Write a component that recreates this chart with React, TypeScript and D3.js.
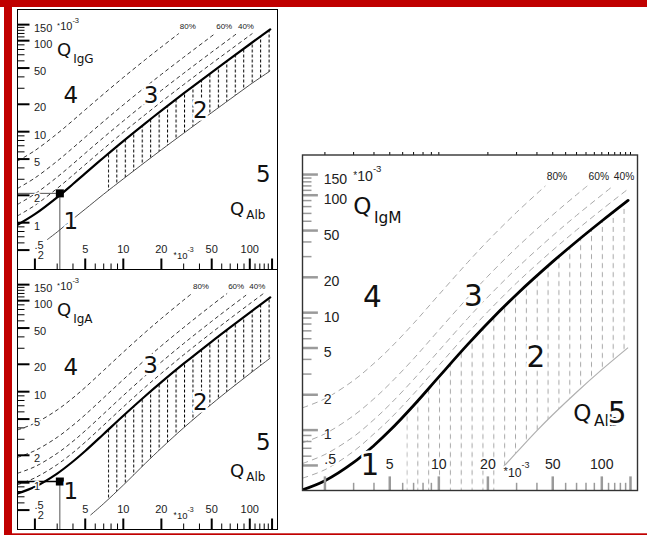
import React from "react";
import * as d3 from "d3";

type Pt = [number, number];

// Albumin quotient sampling points (x 10^-3) for the upper reference curves
const albSteps = [1.46, 2, 3, 4, 5, 7, 10, 15, 20, 30, 50, 70, 100, 145];

// IgG: upper limit (bold), lower limit and intrathecal fraction lines
const iggLimit = [0.95, 1.24, 1.9, 2.66, 3.48, 5.2, 7.88, 12.43, 17.04, 26.29, 44.86, 63.44, 91.33, 133.2];
const iggLower: Pt[] = [[2.5, 0.65], [3, 0.79], [4, 1.1], [5, 1.41], [7, 2.06], [10, 3.03], [15, 4.67], [20, 6.32], [30, 9.61], [50, 16.2], [70, 22.8], [100, 32.7], [145, 46.5]];
const igg20: Pt[] = [[1.46, 1.19], [2, 1.55], [3, 2.38], [4, 3.33], [5, 4.35], [7, 6.5], [10, 9.85], [15, 15.5], [20, 21.3], [30, 32.9], [50, 56.1], [70, 79.3], [100, 114.2], [105, 120]];
const igg40: Pt[] = [[1.46, 1.59], [2, 2.07], [3, 3.17], [4, 4.43], [5, 5.8], [7, 8.67], [10, 13.1], [15, 20.7], [20, 28.4], [30, 43.8], [50, 74.8], [70, 105.7], [79.2, 120]];
const igg60: Pt[] = [[1.46, 2.38], [2, 3.1], [3, 4.75], [4, 6.65], [5, 8.7], [7, 13.0], [10, 19.7], [15, 31.1], [20, 42.6], [30, 65.7], [50, 112.2], [53.3, 120]];
const igg80: Pt[] = [[1.46, 4.76], [2, 6.2], [3, 9.5], [4, 13.3], [5, 17.4], [7, 26.0], [10, 39.4], [15, 62.2], [20, 85.2], [27.5, 120]];
const iggPatient: Pt = [3.15, 2.1];

// IgA
const igaLimit = [0.76, 0.9, 1.26, 1.71, 2.23, 3.43, 5.44, 9.03, 12.74, 20.29, 35.58, 50.93, 73.99, 108.6];
const igaLower: Pt[] = [[5.5, 0.44], [7, 0.59], [10, 0.94], [15, 1.64], [20, 2.4], [30, 4.01], [50, 7.32], [70, 10.69], [100, 15.76], [145, 23.4]];
const iga20: Pt[] = [[1.46, 0.95], [2, 1.13], [3, 1.58], [4, 2.14], [5, 2.79], [7, 4.29], [10, 6.8], [15, 11.3], [20, 15.9], [30, 25.4], [50, 44.5], [70, 63.7], [100, 92.5], [128.6, 120]];
const iga40: Pt[] = [[1.46, 1.27], [2, 1.5], [3, 2.1], [4, 2.85], [5, 3.72], [7, 5.72], [10, 9.07], [15, 15.05], [20, 21.2], [30, 33.8], [50, 59.3], [70, 84.9], [97.4, 120]];
const iga60: Pt[] = [[1.46, 1.9], [2, 2.25], [3, 3.15], [4, 4.28], [5, 5.58], [7, 8.58], [10, 13.6], [15, 22.6], [20, 31.9], [30, 50.7], [50, 89.0], [66.2, 120]];
const iga80: Pt[] = [[1.46, 3.8], [2, 4.5], [3, 6.3], [4, 8.55], [5, 11.15], [7, 17.15], [10, 27.2], [15, 45.2], [20, 63.7], [30, 101.5], [34.9, 120]];
const igaPatient: Pt = [3.15, 1.03];

// IgM
const igmLimit = [0.31, 0.37, 0.53, 0.74, 0.99, 1.62, 2.84, 5.34, 8.18, 14.3, 27.19, 40.37, 60.3, 90.33];
const igmLower: Pt[] = [[25, 0.49], [30, 0.645], [40, 0.99], [50, 1.35], [70, 2.1], [100, 3.27], [145, 5.04]];
const igm20: Pt[] = [[1.46, 0.39], [2, 0.46], [3, 0.66], [4, 0.93], [5, 1.24], [7, 2.03], [10, 3.55], [15, 6.68], [20, 10.2], [30, 17.9], [50, 34.0], [70, 50.5], [100, 75.4], [145, 112.9]];
const igm40: Pt[] = [[1.46, 0.52], [2, 0.62], [3, 0.88], [4, 1.23], [5, 1.65], [7, 2.7], [10, 4.73], [15, 8.9], [20, 13.6], [30, 23.8], [50, 45.3], [70, 67.3], [100, 100.5], [117.5, 120]];
const igm60: Pt[] = [[1.46, 0.78], [2, 0.93], [3, 1.33], [4, 1.85], [5, 2.48], [7, 4.05], [10, 7.1], [15, 13.35], [20, 20.45], [30, 35.75], [50, 68.0], [70, 100.9], [81.5, 120]];
const igm80: Pt[] = [[1.46, 1.55], [2, 1.85], [3, 2.65], [4, 3.7], [5, 4.95], [7, 8.1], [10, 14.2], [15, 26.7], [20, 40.9], [30, 71.5], [45.1, 120]];

// Intrathecal fraction names, in the order of the fraction line arrays
const fractionNames = ["20%", "40%", "60%", "80%"];
const labelledFractions = ["40%", "60%", "80%"];

// Age-related upper reference of QAlb where the barrier-dysfunction band starts
const hatchStartIgGA = 7.55;
const hatchStartIgM = 6.33;

// Axes
const xMajorTicks = [2, 5, 10, 20, 50, 100, 150];
const xMinorTicks = [3, 4, 6, 7, 8, 9, 30, 40, 60, 70, 80, 90, 110, 120, 130, 140];
const yMajorTicks = [0.5, 1, 2, 5, 10, 20, 50, 100, 150];
const yMinorTicks = [0.6, 0.7, 0.8, 0.9, 3, 4, 6, 7, 8, 9, 30, 40, 60, 70, 80, 90, 110, 120, 130, 140];
const xTickLabels = ["2", "5", "10", "20", "50", "100"];
const yTickLabels = [".5", "1", "2", "5", "10", "20", "50", "100", "150"];
const regionNames = ["1", "2", "3", "4", "5"];

const X_DOMAIN: Pt = [1.457, 165.6];
const Y_DOMAIN: Pt = [0.306, 220];
const ALB_END = 145;

const NUM_FONT = "DejaVu Sans, Verdana, sans-serif";
const TICK_FONT = "Liberation Sans, Arial, sans-serif";

interface PanelSpec {
  id: string;
  sub: string;
  x0: number;
  y0: number;
  w: number;
  h: number;
  s: number;
  light: boolean;
  limit: number[];
  lower: Pt[];
  fractions: Pt[][];
  hatchFrom: number;
  patient?: Pt;
  patientBold?: boolean;
  regionAt: Pt[];
  albLabelAt: Pt;
  showX2: boolean;
  ruler: boolean;
}

const panels: PanelSpec[] = [
  {
    id: "igg", sub: "IgG", x0: 17.5, y0: 9.5, w: 260, h: 260, s: 1, light: false,
    limit: iggLimit, lower: iggLower, fractions: [igg20, igg40, igg60, igg80],
    hatchFrom: hatchStartIgGA, patient: iggPatient, patientBold: false,
    regionAt: [[3.84, 1.05], [40.6, 17.3], [16.6, 25.3], [3.84, 25.3], [128, 3.49]],
    albLabelAt: [69.8, 1.215], showX2: true, ruler: false,
  },
  {
    id: "iga", sub: "IgA", x0: 17.5, y0: 269.5, w: 260, h: 260, s: 1, light: false,
    limit: igaLimit, lower: igaLower, fractions: [iga20, iga40, iga60, iga80],
    hatchFrom: hatchStartIgGA, patient: igaPatient, patientBold: true,
    regionAt: [[3.84, 0.817], [40.6, 7.76], [16.4, 19.7], [3.84, 18.8], [128, 2.82]],
    albLabelAt: [69.8, 1.164], showX2: true, ruler: false,
  },
  {
    id: "igm", sub: "IgM", x0: 302.5, y0: 155, w: 335, h: 335.5, s: 1.283, light: true,
    limit: igmLimit, lower: igmLower, fractions: [igm20, igm40, igm60, igm80],
    hatchFrom: hatchStartIgM,
    regionAt: [[3.77, 0.508], [39.4, 4.25], [16.3, 13.95], [3.91, 13.7], [124, 1.41]],
    albLabelAt: [66.7, 1.19], showX2: false, ruler: true,
  },
];

function Panel({ p }: { p: PanelSpec }) {
  const { w, h, s } = p;
  const x = d3.scaleLog().domain(X_DOMAIN).range([0, w]);
  const y = d3.scaleLog().domain(Y_DOMAIN).range([h, 0]);
  const gen = d3
    .line<Pt>()
    .x((d) => x(d[0]))
    .y((d) => y(d[1]))
    .curve(d3.curveCatmullRom.alpha(0.5));

  const limitPts: Pt[] = albSteps.map((a, i) => [a, p.limit[i]]);
  const upperD = gen(limitPts)!;
  const lowerRevD = gen([...p.lower].reverse())!;
  const bandD = `${upperD}L${lowerRevD.slice(1)}L${x(p.lower[0][0])},${h}L${x(limitPts[0][0])},${h}Z`;

  const ink = p.light ? "#a8a8a8" : "#000";
  const tickInk = p.light ? "#9a9a9a" : "#000";
  const hx = x(p.hatchFrom);
  const halo = { paintOrder: "stroke" as const, stroke: "#fff", strokeLinejoin: "round" as const };

  return (
    <g transform={`translate(${p.x0},${p.y0})`}>
      <defs>
        <clipPath id={`frame-${p.id}`}>
          <rect width={w} height={h} />
        </clipPath>
        <clipPath id={`band-${p.id}`}>
          <path d={bandD} />
        </clipPath>
        <pattern id={`hatch-${p.id}`} patternUnits="userSpaceOnUse" x={hx} y={0} width={8.46 * s} height={h}>
          <line x1={0.5} x2={0.5} y1={0} y2={h} stroke={ink} strokeWidth={1}
            strokeDasharray={p.light ? "5 4" : "3 2"} />
        </pattern>
      </defs>
      <rect width={w} height={h} fill="#fff" />

      <g clipPath={`url(#frame-${p.id})`}>
        <rect x={hx} y={0} width={x(ALB_END) - hx + 1} height={h}
          fill={`url(#hatch-${p.id})`} clipPath={`url(#band-${p.id})`} />
        {p.fractions.map((pts, i) => (
          <path key={fractionNames[i]} d={gen(pts)!} fill="none" stroke={ink}
            strokeWidth={p.light ? 1 : 0.8} strokeDasharray={p.light ? "6 4" : "4 3"} />
        ))}
        <path d={gen(p.lower)!} fill="none" stroke={p.light ? "#b0b0b0" : "#3a3a3a"} strokeWidth={p.light ? 1.2 : 0.9} />
        <path d={upperD} fill="none" stroke="#000" strokeWidth={p.light ? 2.8 : 2.2} strokeLinecap="round" />
      </g>

      {p.patient && (
        <g>
          <line x1={0} x2={x(p.patient[0])} y1={y(p.patient[1])} y2={y(p.patient[1])}
            stroke={p.patientBold ? "#000" : "#555"} strokeWidth={p.patientBold ? 1.5 : 1} />
          <line x1={x(p.patient[0])} x2={x(p.patient[0])} y1={y(p.patient[1])} y2={h}
            stroke="#555" strokeWidth={1} />
          <rect x={x(p.patient[0]) - 4} y={y(p.patient[1]) - 4} width={8} height={8} fill="#000" />
        </g>
      )}

      {/* axis ticks, drawn from the frame inward */}
      {yMajorTicks.map((v) => (
        <line key={`ym${v}`} x1={0} x2={12 * s} y1={y(v)} y2={y(v)} stroke={tickInk} strokeWidth={p.light ? 2.5 : 2} />
      ))}
      {yMinorTicks.map((v) => (
        <line key={`yn${v}`} x1={0} x2={7 * s} y1={y(v)} y2={y(v)} stroke={tickInk} strokeWidth={p.light ? 1.5 : 1} />
      ))}
      {xMajorTicks.map((v) => (
        <line key={`xm${v}`} x1={x(v)} x2={x(v)} y1={h} y2={h - 11 * s} stroke={tickInk} strokeWidth={p.light ? 2.5 : 2} />
      ))}
      {xMinorTicks.map((v) => (
        <line key={`xn${v}`} x1={x(v)} x2={x(v)} y1={h} y2={h - 6 * s} stroke={tickInk} strokeWidth={p.light ? 1.5 : 1} />
      ))}
      {p.ruler &&
        [...xMajorTicks, ...xMinorTicks].map((v) => (
          <line key={`r${v}`} x1={x(v)} x2={x(v)} y1={0} y2={-3} stroke="#000" strokeWidth={1} />
        ))}

      {/* tick labels */}
      <g fontFamily={TICK_FONT} fontSize={11 * s} fill="#222" {...halo} strokeWidth={3}>
        {yTickLabels.map((t) => {
          const v = Number(t);
          const low = v < 1;
          return (
            <text key={`yl${t}`} x={(low ? 17 : 16.5) * s} y={low ? y(v) - 1.5 * s : y(v) + 7 * s}>{t}</text>
          );
        })}
        {xTickLabels.map((t) => {
          const v = Number(t);
          if (v === 2) {
            return p.showX2 ? (
              <text key={`xl${t}`} x={x(v) + 6 * s} y={h - 10.8 * s} textAnchor="middle">{t}</text>
            ) : null;
          }
          return (
            <text key={`xl${t}`} x={x(v)} y={h - 16.5 * s} textAnchor="middle">{t}</text>
          );
        })}
        <text x={x(24.9)} y={h - 12 * s}>
          <tspan fontSize={9 * s}>*</tspan>
          <tspan fontSize={9.5 * s} dy={1.5 * s}>10</tspan>
          <tspan fontSize={7 * s} dy={-7 * s}>-3</tspan>
        </text>
        <text x={39.5 * s} y={20.5 * s}>
          <tspan fontSize={8 * s} dy={-2 * s}>*</tspan>
          <tspan dy={2 * s}>10</tspan>
          <tspan fontSize={7.5 * s} dy={-7.3 * s}>-3</tspan>
        </text>
      </g>

      {/* intrathecal fraction labels at the line ends */}
      <g fontFamily={TICK_FONT} fontSize={8 * s} fill="#222" textAnchor="middle">
        {p.fractions.map((pts, i) => {
          const name = fractionNames[i];
          if (!labelledFractions.includes(name)) return null;
          const end = pts[pts.length - 1];
          const cx = Math.min(x(end[0]) + 9 * s, w - 10.5 * s);
          return (
            <text key={name} x={cx} y={19.5 * s}>{name}</text>
          );
        })}
      </g>

      {/* quotient names */}
      <g fontFamily={NUM_FONT} fill="#111" {...halo} strokeWidth={3}>
        <text x={39.5 * s} y={46 * s}>
          <tspan fontSize={18 * s}>Q</tspan>
          <tspan fontSize={12 * s} dx={2 * s} dy={7 * s}>{p.sub}</tspan>
        </text>
        <text x={x(p.albLabelAt[0])} y={y(p.albLabelAt[1])}>
          <tspan fontSize={18 * s}>Q</tspan>
          <tspan fontSize={12 * s} dx={2 * s} dy={4 * s}>Alb</tspan>
        </text>
      </g>

      {/* region numbers */}
      <g fontFamily={NUM_FONT} fontSize={23 * s} fill="#111" textAnchor="middle" {...halo} strokeWidth={5}>
        {regionNames.map((r, i) => (
          <text key={r} x={x(p.regionAt[i][0])} y={y(p.regionAt[i][1])} dy="0.36em">{r}</text>
        ))}
      </g>

      <rect width={w} height={h} fill="none" stroke={p.light ? "#333" : "#000"} strokeWidth={p.light ? 1.4 : 1} />
    </g>
  );
}

export default function App() {
  return (
    <svg width={647} height={535} viewBox="0 0 647 535"
      style={{ position: "absolute", left: 0, top: 0, background: "#fff" }}>
      <rect width={647} height={535} fill="#fff" />
      {/* page frame */}
      <rect x={0} y={0} width={647} height={7} fill="#c00000" />
      <rect x={4} y={0} width={8} height={535} fill="#c00000" />
      <rect x={12} y={533.3} width={635} height={1.7} fill="#c00000" />
      {panels.map((p) => (
        <Panel key={p.id} p={p} />
      ))}
    </svg>
  );
}
